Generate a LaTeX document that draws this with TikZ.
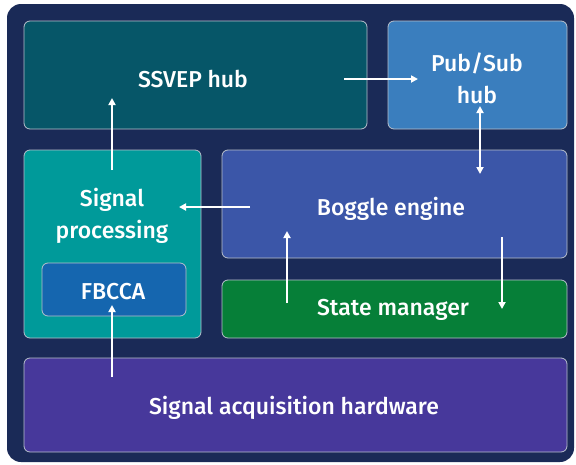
\documentclass[tikz,border=0pt]{standalone}
\usepackage{fontspec}
\setmainfont{Fira Sans}[UprightFont={* Medium}]
\usetikzlibrary{arrows.meta}
\definecolor{navy}{HTML}{1A2A57}
\definecolor{ssvep}{HTML}{065668}
\definecolor{pubsub}{HTML}{3A7EBE}
\definecolor{sigproc}{HTML}{009A9A}
\definecolor{boggle}{HTML}{3B56A8}
\definecolor{state}{HTML}{067F38}
\definecolor{fbcca}{HTML}{1566AF}
\definecolor{acq}{HTML}{47389B}
\definecolor{edge}{HTML}{B8C0CC}
\tikzset{
  panel/.style={draw=edge, line width=0.8pt, rounded corners=6pt},
  lbl/.style={text=white, font=\fontsize{23}{32}\selectfont, align=center, inner sep=0pt},
  conn/.style={draw=white, line width=1.8pt, -{Triangle[length=7pt,width=7pt]}},
  conn2/.style={draw=white, line width=1.8pt, {Triangle[length=7pt,width=7pt]}-{Triangle[length=7pt,width=7pt]}}
}
\begin{document}
\begin{tikzpicture}[x=1pt,y=-1pt]
\useasboundingbox (0,0) rectangle (576,464);
\fill[navy, rounded corners=14pt] (7,4) rectangle (574,462);
% boxes
\path[panel, fill=ssvep] (24,21) rectangle (367,129);
\path[panel, fill=pubsub] (388,21) rectangle (567,129);
\path[panel, fill=sigproc] (24,150) rectangle (201,338);
\path[panel, fill=boggle] (222,150) rectangle (567,258);
\path[panel, fill=state] (222,280) rectangle (567,338);
\path[panel, fill=fbcca] (42,263) rectangle (186,316);
\path[panel, fill=acq] (24,358) rectangle (567,452);
% labels
\node[lbl] (ssvep) at (193,79) {SSVEP hub};
\node[lbl] (pubsub) at (477,78) {Pub/Sub\\hub};
\node[lbl] (sigproc) at (112,216) {Signal\\processing};
\node[lbl] (boggle) at (391,209) {Boggle engine};
\node[lbl] (state) at (393,310) {State manager};
\node[lbl] (fbcca) at (113,292) {FBCCA};
\node[lbl] (acq) at (294,408) {Signal acquisition hardware};
% connector ends
\coordinate (a1s) at (112,170); \coordinate (a1e) at (112,98);
\coordinate (a2s) at (250,207); \coordinate (a2e) at (179,207);
\coordinate (a3s) at (344,79); \coordinate (a3e) at (418,79);
\coordinate (a4s) at (480,106); \coordinate (a4e) at (480,174);
\coordinate (a5s) at (287,303); \coordinate (a5e) at (287,231);
\coordinate (a6s) at (502,237); \coordinate (a6e) at (502,309);
\coordinate (a7s) at (112,377); \coordinate (a7e) at (112,305);
\draw[conn] (a1s) -- (a1e);
\draw[conn] (a2s) -- (a2e);
\draw[conn] (a3s) -- (a3e);
\draw[conn2] (a4s) -- (a4e);
\draw[conn] (a5s) -- (a5e);
\draw[conn] (a6s) -- (a6e);
\draw[conn] (a7s) -- (a7e);
\end{tikzpicture}
\end{document}
